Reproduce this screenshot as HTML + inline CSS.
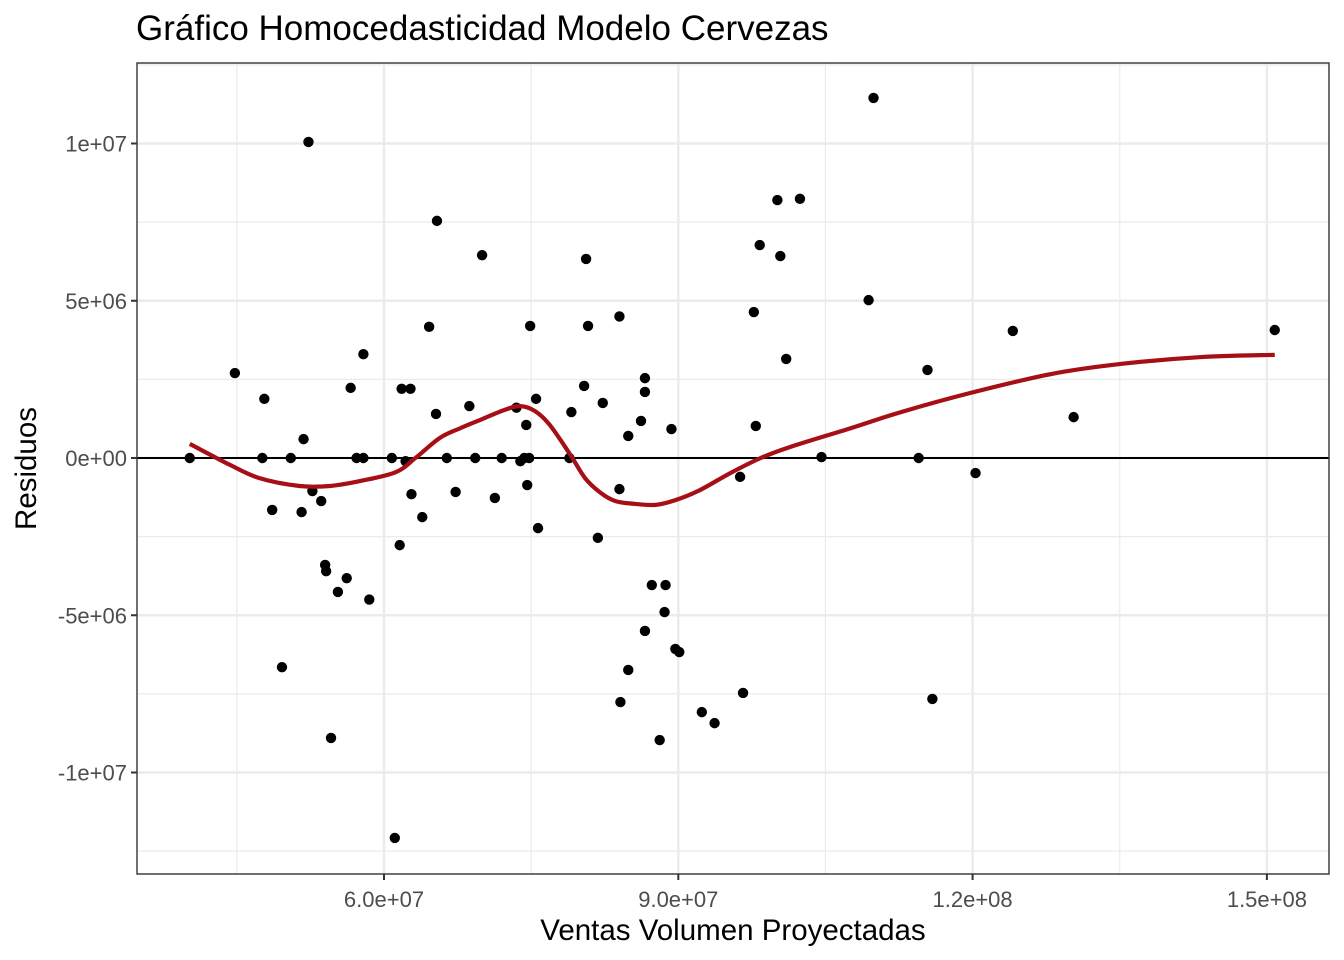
<!DOCTYPE html>
<html><head><meta charset="utf-8"><style>
html,body{margin:0;padding:0;background:#fff;}
svg{display:block;font-family:"Liberation Sans",Arial,sans-serif;}
</style></head><body>
<svg id="c" width="1344" height="960" xmlns="http://www.w3.org/2000/svg"></svg>
<script>
// x in units of 1e7, y in units of 1e6
const pointX=[4.02,4.48,4.78,4.76,5.05,4.86,4.96,5.18,5.16,5.23,5.27,5.36,5.40,5.41,5.46,5.53,5.62,5.66,5.72,5.79,5.79,5.85,6.08,6.11,6.16,6.18,6.22,6.27,6.28,6.39,6.46,6.53,6.54,6.64,6.73,6.87,6.93,7.0,7.13,7.2,7.35,7.39,7.43,7.45,7.46,7.48,7.49,7.55,7.57,7.89,7.91,8.04,8.06,8.08,8.18,8.23,8.40,8.40,8.41,8.49,8.49,8.62,8.66,8.66,8.66,8.73,8.81,8.86,8.87,8.93,8.97,9.01,9.24,9.37,9.63,9.66,9.77,9.79,9.83,10.01,10.04,10.10,10.24,10.46,10.94,10.99,11.45,11.54,11.59,12.03,12.41,13.03,15.08];
const pointY=[0,2.7,1.88,0,0,-1.65,-6.65,0.6,-1.72,10.05,-1.05,-1.37,-3.4,-3.6,-8.9,-4.26,-3.82,2.23,0,0,3.3,-4.5,0,-12.08,-2.77,2.2,-0.1,2.2,-1.15,-1.88,4.17,1.4,7.54,0,-1.08,1.65,0,6.45,-1.27,0,1.6,-0.1,0,1.05,-0.86,0,4.2,1.88,-2.23,0,1.46,2.29,6.33,4.2,-2.54,1.75,4.5,-0.99,-7.76,0.7,-6.74,1.18,-5.5,2.1,2.54,-4.04,-8.97,-4.9,-4.04,0.92,-6.07,-6.17,-8.08,-8.43,-0.6,-7.47,4.64,1.02,6.77,8.2,6.42,3.15,8.24,0.03,5.02,11.45,0,2.8,-7.66,-0.48,4.04,1.3,4.07];
const smoothX=[4.02,4.43,4.73,5.14,5.45,5.76,6.12,6.32,6.57,6.78,6.98,7.23,7.39,7.54,7.69,7.9,8.05,8.21,8.36,8.56,8.77,8.97,9.22,9.53,9.84,10.14,10.76,11.27,11.98,12.8,13.51,14.33,15.08];
const smoothY=[0.45,-0.22,-0.64,-0.89,-0.89,-0.73,-0.45,0,0.64,0.95,1.21,1.53,1.65,1.49,1.05,0.1,-0.64,-1.11,-1.37,-1.46,-1.49,-1.34,-1.02,-0.48,0,0.35,0.95,1.46,2.07,2.67,2.99,3.21,3.28];
const xTicks=[6,9,12,15];
const xTickLabels=["6.0e+07","9.0e+07","1.2e+08","1.5e+08"];
const yTicks=[10,5,0,-5,-10];
const yTickLabels=["1e+07","5e+06","0e+00","-5e+06","-1e+07"];

const L=137,R=1329,T=63,B=874;
const sx=v=>384+(v-6)*98.1;
const sy=v=>458-v*31.45;
const svg=document.getElementById('c');
const NS='http://www.w3.org/2000/svg';
function mk(tag,at,parent){const e=document.createElementNS(NS,tag);for(const k in at)e.setAttribute(k,at[k]);(parent||svg).appendChild(e);return e;}

const bg=mk('rect',{x:L,y:T,width:R-L,height:B-T,fill:'#fff'});


const grid=mk('g',{});


for(let i=0;i<xTicks.length+1;i++){const v=xTicks[0]-1.5+3*i;const x=sx(v);if(x>L&&x<R)mk('line',{x1:x,x2:x,y1:T,y2:B,stroke:'#ebebeb','stroke-width':1.2},grid);}
for(let i=0;i<yTicks.length+1;i++){const v=yTicks[0]+2.5-5*i;const y=sy(v);if(y>T&&y<B)mk('line',{x1:L,x2:R,y1:y,y2:y,stroke:'#ebebeb','stroke-width':1.2},grid);}
xTicks.forEach(v=>mk('line',{x1:sx(v),x2:sx(v),y1:T,y2:B,stroke:'#ebebeb','stroke-width':2.4},grid));
yTicks.forEach(v=>mk('line',{x1:L,x2:R,y1:sy(v),y2:sy(v),stroke:'#ebebeb','stroke-width':2.4},grid));

const zl=mk('line',{x1:L,x2:R,y1:sy(0),y2:sy(0),stroke:'#000','stroke-width':2});



const pts=mk('g',{});


pointX.forEach((v,i)=>{const c=mk('circle',{cx:sx(v),cy:sy(pointY[i]),r:5.2,fill:'#000'},pts);

});

const P=smoothX.map((v,i)=>[sx(v),sy(smoothY[i])]);
let d='M'+P[0][0]+','+P[0][1];
for(let i=0;i<P.length-1;i++){const p0=P[i-1]||P[i],p1=P[i],p2=P[i+1],p3=P[i+2]||p2;
d+=' C'+(p1[0]+(p2[0]-p0[0])/6)+','+(p1[1]+(p2[1]-p0[1])/6)+' '+(p2[0]-(p3[0]-p1[0])/6)+','+(p2[1]-(p3[1]-p1[1])/6)+' '+p2[0]+','+p2[1];}
const sm=mk('path',{d:d,fill:'none',stroke:'#a50f15','stroke-width':4.2});



const fr=mk('rect',{x:L,y:T,width:R-L,height:B-T,fill:'none',stroke:'#333','stroke-width':1.4});



xTicks.forEach((v,i)=>{mk('line',{x1:sx(v),x2:sx(v),y1:B,y2:B+6,stroke:'#333','stroke-width':2});
const t=mk('text',{x:sx(v),y:B+33,'text-anchor':'middle','font-size':22,fill:'#4d4d4d'});t.textContent=xTickLabels[i];

});
yTicks.forEach((v,i)=>{mk('line',{x1:L-6,x2:L,y1:sy(v),y2:sy(v),stroke:'#333','stroke-width':2});
const t=mk('text',{x:L-10,y:sy(v)+8,'text-anchor':'end','font-size':22,fill:'#4d4d4d'});t.textContent=yTickLabels[i];

});

const tt=mk('text',{x:136,y:40,'font-size':35,fill:'#000'});tt.textContent='Gráfico Homocedasticidad Modelo Cervezas';


const xt=mk('text',{x:(L+R)/2,y:940,'text-anchor':'middle','font-size':29.5,fill:'#000'});xt.textContent='Ventas Volumen Proyectadas';


const yt=mk('text',{x:0,y:0,'text-anchor':'middle','font-size':29.5,fill:'#000',transform:'translate(36,'+((T+B)/2)+') rotate(-90)'});yt.textContent='Residuos';


</script>
</body></html>
